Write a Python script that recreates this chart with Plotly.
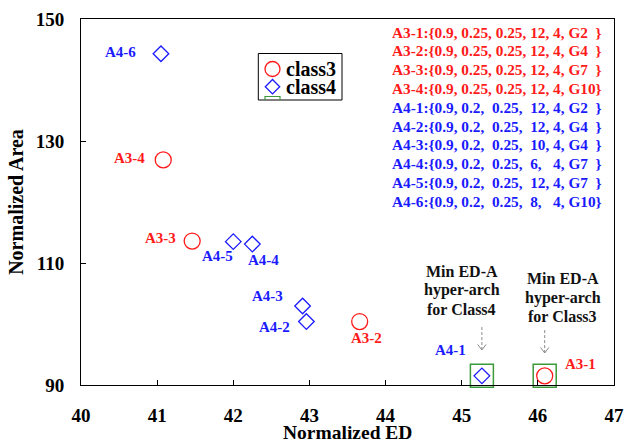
import plotly.graph_objects as go

# ---- data ----
class3_ed = [46.09, 43.66, 41.46, 41.08]
class3_area = [91.5, 100.4, 113.6, 126.9]
class3_labels = ["A3-1", "A3-2", "A3-3", "A3-4"]
class3_label_off = [(36, -12), (7, 16), (-32, -3), (-34, -2)]

class4_ed = [45.265, 42.96, 42.91, 42.25, 42.00, 41.05]
class4_area = [91.5, 100.4, 102.95, 113.1, 113.5, 144.3]
class4_labels = ["A4-1", "A4-2", "A4-3", "A4-4", "A4-5", "A4-6"]
class4_label_off = [(-31, -26), (-32, 5), (-35, -10), (11, 16), (-16, 14), (-40, -2)]

param_lines_class3 = [
    "A3-1:{0.9, 0.25, 0.25, 12, 4, G2  }",
    "A3-2:{0.9, 0.25, 0.25, 12, 4, G4  }",
    "A3-3:{0.9, 0.25, 0.25, 12, 4, G7  }",
    "A3-4:{0.9, 0.25, 0.25, 12, 4, G10}",
]
param_lines_class4 = [
    "A4-1:{0.9, 0.2,  0.25,  12, 4, G2  }",
    "A4-2:{0.9, 0.2,  0.25,  12, 4, G4  }",
    "A4-3:{0.9, 0.2,  0.25,  10, 4, G4  }",
    "A4-4:{0.9, 0.2,  0.25,  6,   4, G7  }",
    "A4-5:{0.9, 0.2,  0.25,  12, 4, G7  }",
    "A4-6:{0.9, 0.2,  0.25,  8,   4, G10}",
]
legend_names = ["class3", "class4"]
note_lines = ["Min ED-A", "hyper-arch", "for Class{}"]
x_title = "Normalized ED"
y_title = "Normalized Area"

x_ticks = [40, 41, 42, 43, 44, 45, 46, 47]
y_ticks = [90, 110, 130, 150]

RED = "#ff1a1a"
BLUE = "#1a1aff"
GREEN = "#3a9a3a"
FONT = "Liberation Serif"

# plot area in pixels (for paper-coordinate layout helpers)
L, R, T, B = 81, 614, 19, 385


def px(x):
    return (x - L) / (R - L)


def py(y):
    return (B - y) / (B - T)


fig = go.Figure()

# highlighted minimum hyper-archs (green squares)
fig.add_trace(go.Scatter(
    x=[class4_ed[0], class3_ed[0]], y=[class4_area[0], class3_area[0]],
    mode="markers", showlegend=False, cliponaxis=False,
    marker=dict(symbol="square-open", size=23, color=GREEN, line=dict(width=1.5, color=GREEN)),
    hoverinfo="skip"))

fig.add_trace(go.Scatter(
    x=class3_ed, y=class3_area, mode="markers", name=legend_names[0], showlegend=False,
    marker=dict(symbol="circle-open", size=16, color=RED, line=dict(width=1.3, color=RED))))
fig.add_trace(go.Scatter(
    x=class4_ed, y=class4_area, mode="markers", name=legend_names[1], showlegend=False,
    marker=dict(symbol="diamond-open", size=12, color=BLUE, line=dict(width=1.3, color=BLUE))))

annotations = []
for xs, ys, labs, offs, col in [
    (class3_ed, class3_area, class3_labels, class3_label_off, RED),
    (class4_ed, class4_area, class4_labels, class4_label_off, BLUE),
]:
    for x, y, lab, (dx, dy) in zip(xs, ys, labs, offs):
        annotations.append(dict(
            x=x, y=y, xref="x", yref="y", text=lab, showarrow=False,
            xshift=dx, yshift=-dy, xanchor="center", yanchor="middle",
            font=dict(family=FONT, size=15, color=col, weight="bold")))

# parameter list
nb = "\u00a0"
all_lines = [(t, RED) for t in param_lines_class3] + [(t, BLUE) for t in param_lines_class4]
for i, (t, col) in enumerate(all_lines):
    annotations.append(dict(
        x=px(390), y=py(32 + i * 18.8), xref="paper", yref="paper",
        text=t.replace(" ", nb), showarrow=False, xanchor="left", yanchor="middle",
        font=dict(family=FONT, size=15.3, color=col, weight="bold")))

# "Min ED-A" notes (one annotation per line)
for cls, x_pt, cx, top in [("4", class4_ed[0], 461.7, 271), ("3", class3_ed[0], 562.7, 278.5)]:
    for j, line in enumerate(note_lines):
        annotations.append(dict(
            x=px(cx), y=py(top + j * 19), xref="paper", yref="paper", showarrow=False,
            text=line.format(cls), xanchor="center", yanchor="middle",
            font=dict(family=FONT, size=16, color="#111111", weight="bold")))

shapes = []
for x_pt, y0, y1 in [(class4_ed[0], 99.5, 95.75), (class3_ed[0], 99.0, 95.25)]:
    shapes.append(dict(type="line", xref="x", yref="y", x0=x_pt, x1=x_pt, y0=y0, y1=y1,
                       line=dict(color="#888888", width=1, dash="3px,2px")))
    shapes.append(dict(type="path", xref="x", yref="y",
                       path=f"M {x_pt-0.055},{y1+0.9} L {x_pt},{y1} L {x_pt+0.055},{y1+0.9}",
                       line=dict(color="#888888", width=1)))

# ---- legend box (drawn manually to match the compact original) ----
shapes.append(dict(type="rect", xref="paper", yref="paper",
                   x0=px(258.3), x1=px(342), y0=py(100), y1=py(53.5),
                   line=dict(color="black", width=1), fillcolor="white", layer="above"))
shapes.append(dict(type="circle", xref="paper", yref="paper",
                   x0=px(265), x1=px(280), y0=py(76.5), y1=py(61.5),
                   line=dict(color=RED, width=1.3)))
cxd, cyd, hd = 272.5, 86.7, 7.2
shapes.append(dict(type="path", xref="paper", yref="paper",
                   path=f"M {px(cxd-hd)},{py(cyd)} L {px(cxd)},{py(cyd-hd)} L {px(cxd+hd)},{py(cyd)} "
                        f"L {px(cxd)},{py(cyd+hd)} Z",
                   line=dict(color=BLUE, width=1.3)))
shapes.append(dict(type="path", xref="paper", yref="paper",
                   path=f"M {px(265)},{py(100)} L {px(265)},{py(96.5)} "
                        f"L {px(280)},{py(96.5)} L {px(280)},{py(100)}",
                   line=dict(color=GREEN, width=1.2)))
for name, yy in zip(legend_names, [68.5, 87]):
    annotations.append(dict(
        x=px(285), y=py(yy), xref="paper", yref="paper", text=name, showarrow=False,
        xanchor="left", yanchor="middle", borderpad=0,
        font=dict(family=FONT, size=20, color="black", weight="bold")))

axis_font = dict(family=FONT, size=19, color="black", weight="bold")
title_font = dict(family=FONT, size=20, color="black", weight="bold")

# x axis title, placed just under the tick labels
annotations.append(dict(
    x=0.5, y=py(444.5), xref="paper", yref="paper", text=x_title, showarrow=False,
    xanchor="center", yanchor="bottom", borderpad=0,
    font=dict(family=FONT, size=19.5, color="black", weight="bold")))

fig.update_layout(
    width=624, height=443,
    margin=dict(l=L, r=624 - R, t=T, b=443 - B, autoexpand=False),
    paper_bgcolor="white", plot_bgcolor="white",
    showlegend=False,
    annotations=annotations, shapes=shapes,
    xaxis=dict(range=[40, 47], tickvals=x_ticks, ticktext=[str(v) for v in x_ticks],
               ticks="inside", ticklen=5, tickcolor="black", showline=True, linecolor="black",
               linewidth=1, mirror=True, showgrid=False, zeroline=False, automargin=False,
               tickfont=axis_font, ticklabelstandoff=13),
    yaxis=dict(range=[90, 150], tickvals=y_ticks, ticktext=[str(v) for v in y_ticks],
               ticks="inside", ticklen=5, tickcolor="black", showline=True, linecolor="black",
               linewidth=1, mirror=True, showgrid=False, zeroline=False, automargin=False,
               tickfont=axis_font, ticklabelstandoff=12,
               title=dict(text=y_title, font=title_font, standoff=6)),
)

fig.write_html("out.html")
